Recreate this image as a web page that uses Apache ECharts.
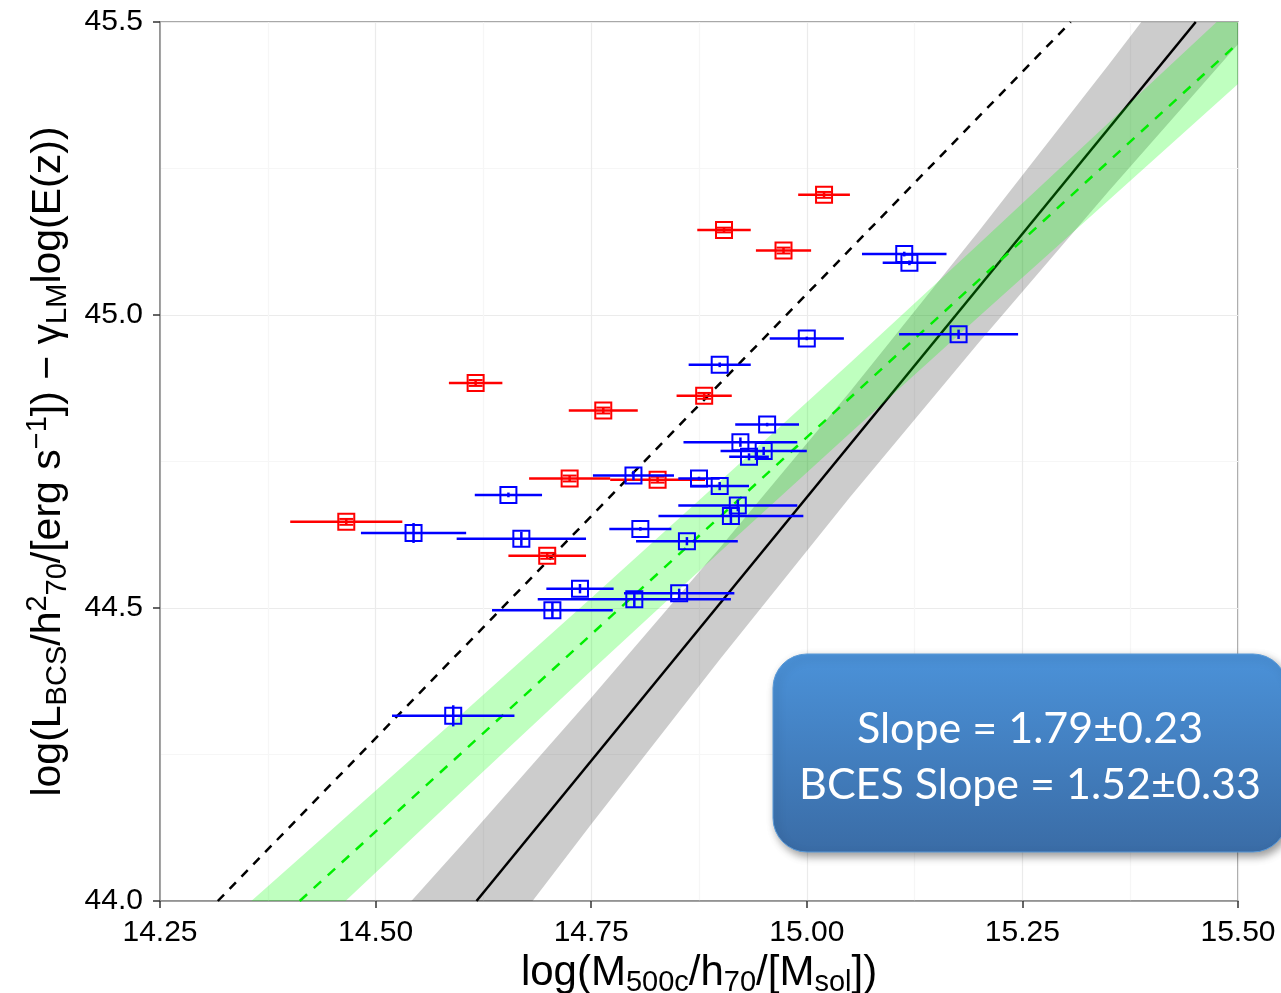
<!DOCTYPE html>
<html>
<head>
<meta charset="utf-8">
<script src="https://cdn.jsdelivr.net/npm/echarts@6/dist/echarts.min.js"></script>
<style>
    html, body { margin: 0; padding: 0; background: #fff; }
    #chartdiv { width: 1281px; height: 993px; }
</style>
</head>
<body>
<div id="chartdiv"></div>
<script>
// red clusters
var redX = [14.616, 14.764, 14.725, 14.827, 14.466, 14.699, 14.881, 15.020, 14.904, 14.973];
var redY = [44.884, 44.837, 44.721, 44.719, 44.647, 44.589, 44.862, 45.205, 45.145, 45.110];
var redXErr = [0.031, 0.040, 0.047, 0.055, 0.065, 0.045, 0.032, 0.030, 0.031, 0.032];
var redYErr = [0.005, 0.005, 0.005, 0.005, 0.005, 0.005, 0.005, 0.005, 0.004, 0.005];

// blue clusters
var blueX = [14.654, 14.544, 14.669, 14.799, 14.807, 14.737, 14.800, 14.852, 14.705, 14.590, 15.000, 15.176,
             14.899, 14.954, 14.923, 14.950, 14.933, 14.875, 14.899, 14.920, 14.912, 14.861, 15.113, 15.119];
var blueY = [44.693, 44.628, 44.618, 44.726, 44.635, 44.533, 44.515, 44.525, 44.496, 44.316, 44.960, 44.967,
             44.915, 44.813, 44.783, 44.768, 44.758, 44.721, 44.708, 44.675, 44.657, 44.614, 45.104, 45.089];
var blueXErr = [0.039, 0.061, 0.075, 0.047, 0.036, 0.039, 0.112, 0.064, 0.070, 0.071, 0.043, 0.069,
                0.036, 0.037, 0.066, 0.050, 0.023, 0.024, 0.034, 0.069, 0.084, 0.059, 0.049, 0.031];
var blueYErr = [0.004, 0.017, 0.012, 0.008, 0.003, 0.008, 0.014, 0.008, 0.014, 0.018, 0.003, 0.008,
                0.004, 0.003, 0.008, 0.007, 0.006, 0.003, 0.007, 0.010, 0.012, 0.007, 0.004, 0.004];

// lines (end points)
var selfSimX = [14.317, 15.306];
var selfSimY = [44.0, 45.5];
var fitX = [14.617, 15.451];
var fitY = [44.0, 45.5];
var bcesX = [14.412, 15.5];
var bcesY = [44.0, 45.464];

// confidence bands
var bandX   = [14.30, 14.45, 14.60, 14.75, 14.90, 15.05, 15.20, 15.35, 15.50];
var grayLo  = [43.255, 43.550, 43.842, 44.131, 44.414, 44.689, 44.954, 45.211, 45.462];
var grayHi  = [43.605, 43.850, 44.096, 44.347, 44.604, 44.869, 45.144, 45.427, 45.716];
var greenLo = [43.771, 43.979, 44.187, 44.393, 44.597, 44.798, 44.998, 45.196, 45.394];
var greenHi = [43.927, 44.123, 44.319, 44.517, 44.717, 44.918, 45.122, 45.328, 45.534];

var xTicks = [14.25, 14.50, 14.75, 15.00, 15.25, 15.50];
var yTicks = [44.0, 44.5, 45.0, 45.5];

function pairs(xs, ys) {
    return xs.map(function (x, i) { return [x, ys[i]]; });
}

function band_render(lo, hi, color) {
    return function (params, api) {
        if (params.dataIndex !== 0) return null;
        var pts = [];
        for (var i = 0; i < bandX.length; i++) pts.push(api.coord([bandX[i], hi[i]]));
        for (var j = bandX.length - 1; j >= 0; j--) pts.push(api.coord([bandX[j], lo[j]]));
        return { type: 'polygon', shape: { points: pts }, style: { fill: color } };
    };
}

function err_render(color, capped) {
    return function (params, api) {
        var x = api.value(0), y = api.value(1), dx = api.value(2), dy = api.value(3);
        var c = api.coord([x, y]);
        var l = api.coord([x - dx, y]);
        var r = api.coord([x + dx, y]);
        var t = api.coord([x, y + dy]);
        var b = api.coord([x, y - dy]);
        var st = { stroke: color, lineWidth: 2.5, fill: 'none' };
        var bx = { stroke: color, lineWidth: 2, fill: 'none' };
        var kids = [
            { type: 'line', shape: { x1: l[0], y1: c[1], x2: r[0], y2: c[1] }, style: st },
            { type: 'line', shape: { x1: c[0], y1: t[1], x2: c[0], y2: b[1] }, style: st },
            { type: 'rect', shape: { x: c[0] - 8, y: c[1] - 8, width: 16, height: 16 }, style: bx }
        ];
        if (capped) {
            kids.push({ type: 'line', shape: { x1: c[0] - 7, y1: t[1], x2: c[0] + 7, y2: t[1] }, style: bx });
            kids.push({ type: 'line', shape: { x1: c[0] - 7, y1: b[1], x2: c[0] + 7, y2: b[1] }, style: bx });
        }
        return { type: 'group', children: kids };
    };
}

function add_chart() {
    var myChart = echarts.init(document.getElementById('chartdiv'));
    var option = {
        animation: false,
        backgroundColor: '#fff',
        grid: {
            left: 160, right: 43, top: 22, bottom: 92, outerBoundsMode: 'none', containLabel: false,
            show: true, borderColor: '#8c8c8c', borderWidth: 1.5
        },
        xAxis: {
            type: 'value', min: xTicks[0], max: xTicks[xTicks.length - 1], interval: 0.25,
            name: '{n|log(M}{s|500c}{n|/h}{s|70}{n|/[M}{s|sol}{n|])}',
            nameLocation: 'middle', nameGap: 46,
            nameTextStyle: {
                rich: {
                    n: { fontFamily: 'Liberation Sans', fontSize: 42, color: '#000' },
                    s: { fontFamily: 'Liberation Sans', fontSize: 29, color: '#000', padding: [18, 0, 0, 0] }
                }
            },
            axisLine: { lineStyle: { color: '#8c8c8c', width: 1.5 } },
            axisTick: { show: true, length: 7, lineStyle: { color: '#333', width: 1.5 } },
            axisLabel: {
                fontFamily: 'Liberation Sans', fontSize: 30, color: '#000', margin: 17,
                formatter: function (v) { return v.toFixed(2); }
            },
            splitLine: { show: true, lineStyle: { color: '#ebebeb', width: 1.2 } },
            minorTick: { show: false, splitNumber: 2 },
            minorSplitLine: { show: true, lineStyle: { color: '#f6f6f6', width: 1.2 } }
        },
        yAxis: {
            type: 'value', min: yTicks[0], max: yTicks[yTicks.length - 1], interval: 0.5,
            name: '{n|log(L}{s|BCS}{n|/h}{p|2}{s|70}{n|/[erg s}{p|\u22121}{n|]) \u2212 \u03b3}{s|LM}{n|log(E(z))}',
            nameLocation: 'middle', nameGap: 86, nameRotate: 90,
            nameTextStyle: {
                rich: {
                    n: { fontFamily: 'Liberation Sans', fontSize: 41, color: '#000' },
                    s: { fontFamily: 'Liberation Sans', fontSize: 29, color: '#000', padding: [18, 0, 0, 0] },
                    p: { fontFamily: 'Liberation Sans', fontSize: 29, color: '#000', padding: [0, 0, 22, 0] }
                }
            },
            axisLine: { lineStyle: { color: '#8c8c8c', width: 1.5 } },
            axisTick: { show: true, length: 7, lineStyle: { color: '#333', width: 1.5 } },
            axisLabel: {
                fontFamily: 'Liberation Sans', fontSize: 30, color: '#000', margin: 17,
                formatter: function (v) { return v.toFixed(1); }
            },
            splitLine: { show: true, lineStyle: { color: '#ebebeb', width: 1.2 } },
            minorTick: { show: false, splitNumber: 2 },
            minorSplitLine: { show: true, lineStyle: { color: '#f6f6f6', width: 1.2 } }
        },
        series: [
            {
                name: 'gray band', type: 'custom', z: 1, clip: true, silent: true,
                renderItem: band_render(grayLo, grayHi, 'rgba(0,0,0,0.2)'),
                data: [[bandX[0], grayLo[0]]]
            },
            {
                name: 'fit', type: 'line', z: 2, symbol: 'none', silent: true,
                lineStyle: { color: '#000', width: 2.5 },
                data: pairs(fitX, fitY)
            },
            {
                name: 'self similar', type: 'line', z: 2, symbol: 'none', silent: true,
                lineStyle: { color: '#000', width: 2.5, type: [9, 8] },
                data: pairs(selfSimX, selfSimY)
            },
            {
                name: 'green band', type: 'custom', z: 3, clip: true, silent: true,
                renderItem: band_render(greenLo, greenHi, 'rgba(0,255,0,0.25)'),
                data: [[bandX[0], greenLo[0]]]
            },
            {
                name: 'bces', type: 'line', z: 4, symbol: 'none', silent: true,
                lineStyle: { color: '#00ee00', width: 2.5, type: [10, 9] },
                data: pairs(bcesX, bcesY)
            },
            {
                name: 'red', type: 'custom', z: 5, clip: true,
                renderItem: err_render('#ff0000', true),
                data: redX.map(function (x, i) { return [x, redY[i], redXErr[i], redYErr[i]]; })
            },
            {
                name: 'blue', type: 'custom', z: 6, clip: true,
                renderItem: err_render('#0000ff', false),
                data: blueX.map(function (x, i) { return [x, blueY[i], blueXErr[i], blueYErr[i]]; })
            }
        ],
        graphic: [
            {
                type: 'group', x: 773, y: 654, z: 100,
                children: [
                    {
                        type: 'rect', z: 100,
                        shape: { x: 0, y: 0, width: 514, height: 198, r: 34 },
                        style: {
                            fill: {
                                type: 'linear', x: 0, y: 0, x2: 0, y2: 1,
                                colorStops: [{ offset: 0, color: '#4b92d9' }, { offset: 1, color: '#3a6ca6' }]
                            },
                            stroke: '#5a9ad8', lineWidth: 1,
                            shadowBlur: 8, shadowOffsetX: 3, shadowOffsetY: 4, shadowColor: 'rgba(0,0,0,0.4)'
                        }
                    },
                    {
                        type: 'text', x: 257, y: 75, z: 101,
                        style: { text: 'Slope = 1.79\u00b10.23', fill: '#fff', font: '43px Lato', align: 'center', verticalAlign: 'middle' }
                    },
                    {
                        type: 'text', x: 257, y: 131, z: 101,
                        style: { text: 'BCES Slope = 1.52\u00b10.33', fill: '#fff', font: '43px Lato', align: 'center', verticalAlign: 'middle' }
                    }
                ]
            }
        ]
    };
    myChart.setOption(option);
}

add_chart();
</script>
</body>
</html>
